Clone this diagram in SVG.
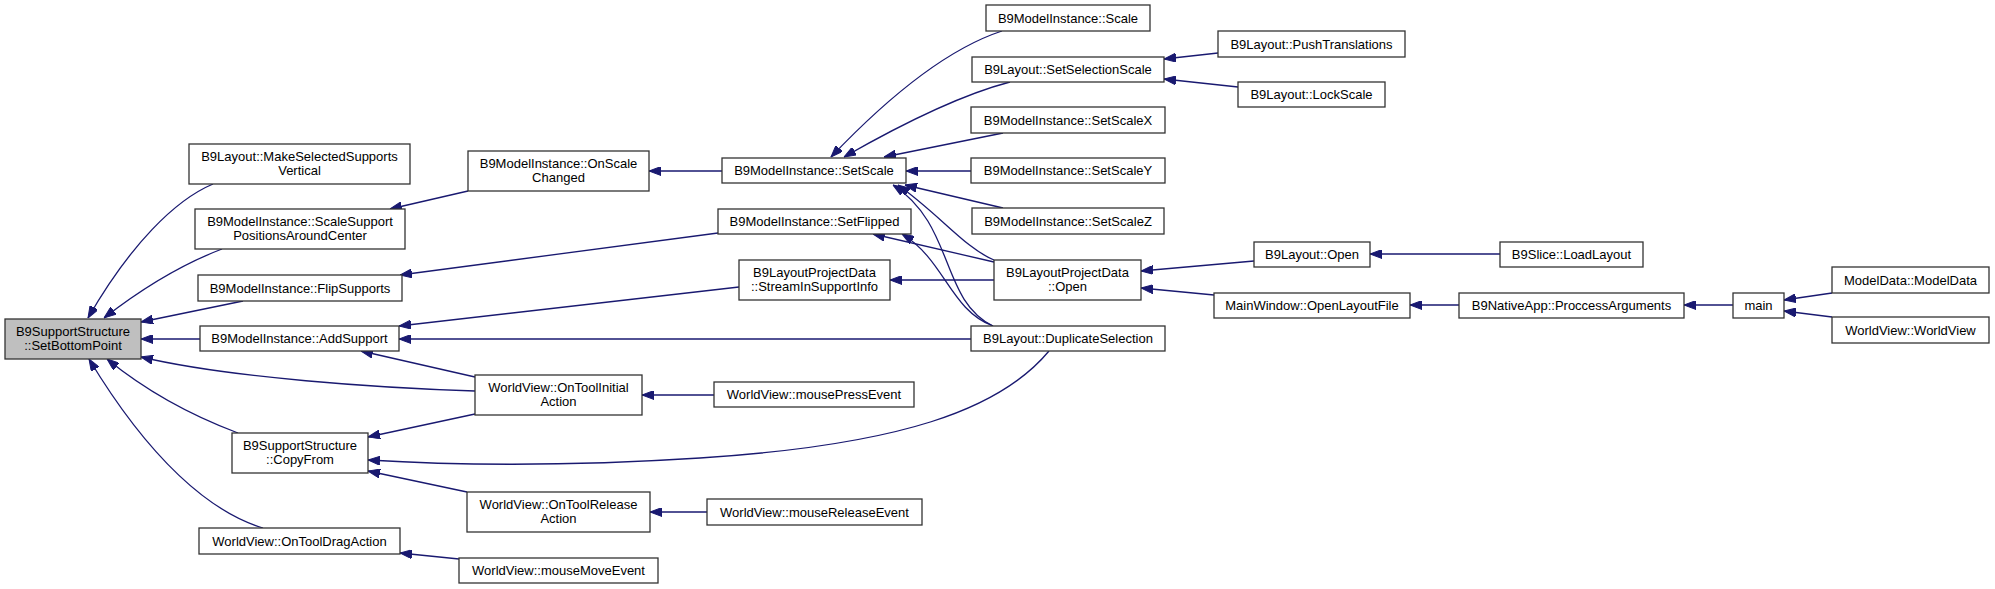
<svg xmlns="http://www.w3.org/2000/svg" width="1995" height="589" viewBox="0 0 1995 589">
<style>
.n rect{fill:#ffffff;stroke:#333333;stroke-width:1.3}
.n.hl rect{fill:#bfbfbf}
.n text{font-family:"Liberation Sans",Arial,sans-serif;font-size:13px;fill:#000;text-anchor:middle}
.e path{fill:none;stroke:#191970;stroke-width:1.3;marker-end:url(#arr)}
</style>
<defs>
<marker id="arr" markerUnits="userSpaceOnUse" viewBox="0 0 12 9" refX="12" refY="4.5" markerWidth="12" markerHeight="9" orient="auto">
<path d="M0,0 L12,4.5 L0,9 z" fill="#191970" stroke="#191970" stroke-width="1"/>
</marker>
</defs>
<rect width="1995" height="589" fill="#ffffff"/>
<g id="connectors" class="e">
<path d="M213,184 C175,200 130,245 88,318"/>
<path d="M222,249 C180,265 140,290 104,318"/>
<path d="M243,301 L141,322"/>
<path d="M200,339 L141,339"/>
<path d="M475,391 C380,388 230,378 141,357"/>
<path d="M238,433 C190,415 145,390 107,359"/>
<path d="M263,528 C210,512 150,460 89,359"/>
<path d="M468,191 L390,209"/>
<path d="M722,171 L649,171"/>
<path d="M718,233 L400,275"/>
<path d="M739,287 L399,326"/>
<path d="M971,339 L399,339"/>
<path d="M475,377 L361,351"/>
<path d="M475,414 L368,437"/>
<path d="M1049,351 C1000,410 900,445 700,458 C560,467 450,465 368,460"/>
<path d="M467,492 L368,471"/>
<path d="M459,559 L400,553"/>
<path d="M714,395 L642,395"/>
<path d="M707,512 L650,512"/>
<path d="M1002,31 C950,48 890,95 831,157"/>
<path d="M1010,82 C960,95 900,125 844,157"/>
<path d="M1003,133 L884,157"/>
<path d="M971,171 L906,171"/>
<path d="M1003,208 L905,185"/>
<path d="M994,260 C965,248 940,215 898,185"/>
<path d="M993,326 C940,300 955,225 893,185"/>
<path d="M993,326 C950,310 945,260 902,234"/>
<path d="M994,262 L873,234"/>
<path d="M994,280 L890,280"/>
<path d="M1254,261 L1141,271"/>
<path d="M1214,295 L1141,288"/>
<path d="M1500,254 L1370,254"/>
<path d="M1459,305 L1410,305"/>
<path d="M1733,305 L1684,305"/>
<path d="M1832,293 L1784,300"/>
<path d="M1832,317 L1784,311"/>
<path d="M1218,53 L1164,59"/>
<path d="M1238,87 L1164,79"/>
</g>
<g id="n_setbottompoint" class="n hl"><rect x="5" y="319" width="136" height="40"/><text x="73" y="335.5">B9SupportStructure</text><text x="73" y="350">::SetBottomPoint</text></g>
<g id="n_makeselected" class="n"><rect x="189" y="144" width="221" height="40"/><text x="299.5" y="160.5">B9Layout::MakeSelectedSupports</text><text x="299.5" y="175">Vertical</text></g>
<g id="n_scalesupport" class="n"><rect x="195" y="209" width="210" height="40"/><text x="300" y="225.5">B9ModelInstance::ScaleSupport</text><text x="300" y="240">PositionsAroundCenter</text></g>
<g id="n_flipsupports" class="n"><rect x="198" y="275" width="204" height="26"/><text x="300" y="292.5">B9ModelInstance::FlipSupports</text></g>
<g id="n_addsupport" class="n"><rect x="200" y="326" width="199" height="25"/><text x="299.5" y="343">B9ModelInstance::AddSupport</text></g>
<g id="n_copyfrom" class="n"><rect x="232" y="433" width="136" height="40"/><text x="300" y="449.5">B9SupportStructure</text><text x="300" y="464">::CopyFrom</text></g>
<g id="n_ontooldrag" class="n"><rect x="199" y="528" width="201" height="26"/><text x="299.5" y="545.5">WorldView::OnToolDragAction</text></g>
<g id="n_onscalechanged" class="n"><rect x="468" y="151" width="181" height="40"/><text x="558.5" y="167.5">B9ModelInstance::OnScale</text><text x="558.5" y="182">Changed</text></g>
<g id="n_setscale" class="n"><rect x="722" y="158" width="184" height="25"/><text x="814" y="175">B9ModelInstance::SetScale</text></g>
<g id="n_setflipped" class="n"><rect x="718" y="209" width="193" height="25"/><text x="814.5" y="226">B9ModelInstance::SetFlipped</text></g>
<g id="n_streamin" class="n"><rect x="739" y="260" width="151" height="40"/><text x="814.5" y="276.5">B9LayoutProjectData</text><text x="814.5" y="291">::StreamInSupportInfo</text></g>
<g id="n_ontoolinitial" class="n"><rect x="475" y="375" width="167" height="40"/><text x="558.5" y="391.5">WorldView::OnToolInitial</text><text x="558.5" y="406">Action</text></g>
<g id="n_ontoolrelease" class="n"><rect x="467" y="492" width="183" height="40"/><text x="558.5" y="508.5">WorldView::OnToolRelease</text><text x="558.5" y="523">Action</text></g>
<g id="n_mousepress" class="n"><rect x="714" y="382" width="200" height="25"/><text x="814" y="399">WorldView::mousePressEvent</text></g>
<g id="n_mouserelease" class="n"><rect x="707" y="499" width="215" height="26"/><text x="814.5" y="516.5">WorldView::mouseReleaseEvent</text></g>
<g id="n_mousemove" class="n"><rect x="459" y="558" width="199" height="25"/><text x="558.5" y="575">WorldView::mouseMoveEvent</text></g>
<g id="n_scale" class="n"><rect x="986" y="5" width="164" height="26"/><text x="1068" y="22.5">B9ModelInstance::Scale</text></g>
<g id="n_setselectionscale" class="n"><rect x="972" y="57" width="192" height="25"/><text x="1068" y="74">B9Layout::SetSelectionScale</text></g>
<g id="n_setscalex" class="n"><rect x="971" y="107" width="194" height="26"/><text x="1068" y="124.5">B9ModelInstance::SetScaleX</text></g>
<g id="n_setscaley" class="n"><rect x="971" y="158" width="194" height="25"/><text x="1068" y="175">B9ModelInstance::SetScaleY</text></g>
<g id="n_setscalez" class="n"><rect x="972" y="208" width="192" height="26"/><text x="1068" y="225.5">B9ModelInstance::SetScaleZ</text></g>
<g id="n_lpdopen" class="n"><rect x="994" y="260" width="147" height="40"/><text x="1067.5" y="276.5">B9LayoutProjectData</text><text x="1067.5" y="291">::Open</text></g>
<g id="n_duplicate" class="n"><rect x="971" y="326" width="194" height="25"/><text x="1068" y="343">B9Layout::DuplicateSelection</text></g>
<g id="n_pushtranslations" class="n"><rect x="1218" y="31" width="187" height="26"/><text x="1311.5" y="48.5">B9Layout::PushTranslations</text></g>
<g id="n_lockscale" class="n"><rect x="1238" y="82" width="147" height="25"/><text x="1311.5" y="99">B9Layout::LockScale</text></g>
<g id="n_layoutopen" class="n"><rect x="1254" y="242" width="116" height="25"/><text x="1312" y="259">B9Layout::Open</text></g>
<g id="n_openlayoutfile" class="n"><rect x="1214" y="293" width="196" height="25"/><text x="1312" y="310">MainWindow::OpenLayoutFile</text></g>
<g id="n_loadlayout" class="n"><rect x="1500" y="242" width="143" height="25"/><text x="1571.5" y="259">B9Slice::LoadLayout</text></g>
<g id="n_proccess" class="n"><rect x="1459" y="293" width="225" height="25"/><text x="1571.5" y="310">B9NativeApp::ProccessArguments</text></g>
<g id="n_main" class="n"><rect x="1733" y="293" width="51" height="25"/><text x="1758.5" y="310">main</text></g>
<g id="n_modeldata" class="n"><rect x="1832" y="267" width="157" height="26"/><text x="1910.5" y="284.5">ModelData::ModelData</text></g>
<g id="n_worldview" class="n"><rect x="1832" y="317" width="157" height="26"/><text x="1910.5" y="334.5">WorldView::WorldView</text></g>
</svg>
